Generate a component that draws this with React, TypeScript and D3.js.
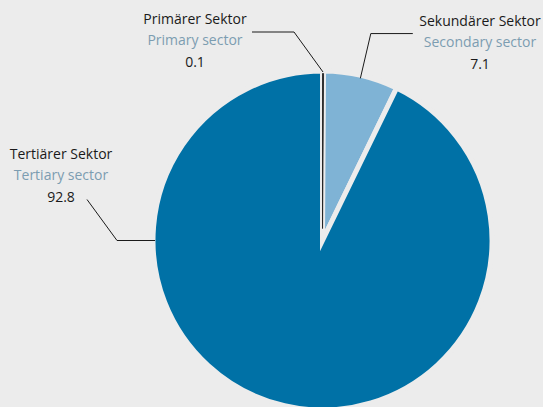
import React from 'react';
import * as d3 from 'd3';

// sectors, clockwise from 12 o'clock
const sectorsDe = ['Primärer Sektor', 'Sekundärer Sektor', 'Tertiärer Sektor'];
const sectorsEn = ['Primary sector', 'Secondary sector', 'Tertiary sector'];
const shares = [0.1, 7.1, 92.8];
const shareLabels = ['0.1', '7.1', '92.8'];
const sliceColors = ['#1a1a1a', '#7fb3d5', '#0071a6'];

const width = 543;
const height = 407;
const bg = '#ececec';

const App = () => {
  const cx = 322.5;
  const cy = 240.5;
  const radius = 169.5;
  const gap = 5;

  const pie = d3
    .pie<number>()
    .sort(null)
    .value(d => d);
  const arcs = pie(shares);

  const arc = d3.arc<d3.PieArcDatum<number>>().innerRadius(0).outerRadius(radius);
  const thinArc = d3
    .arc<d3.PieArcDatum<number>>()
    .innerRadius(12)
    .outerRadius(radius - gap / 2);

  // point on circle at angle a (radians, clockwise from top)
  const polar = (a, r) => [cx + r * Math.sin(a), cy - r * Math.cos(a)];
  const mid = d => (d.startAngle + d.endAngle) / 2;

  // label centre + baseline of first line
  const labelPos = [
    [195, 24],
    [480, 26],
    [61, 159]
  ];

  const leader = i => {
    const d = arcs[i];
    if (i === 0) {
      const p = polar(mid(d), radius - 1);
      return [p, [p[0] - 29, p[1] - 40], [p[0] - 71, p[1] - 40]];
    }
    if (i === 1) {
      const p = polar(mid(d), radius - 3);
      const e = polar(mid(d), radius + 43);
      return [p, e, [e[0] + 42, e[1]]];
    }
    // tertiary label hangs off the left edge of the pie
    const p = polar(-Math.PI / 2, radius - 2);
    return [p, [p[0] - 38, p[1]], [p[0] - 68, p[1] - 41]];
  };

  const line = d3.line();

  return (
    <svg
      width={width}
      height={height}
      style={{ position: 'absolute', left: 0, top: 0, background: bg }}
      fontFamily="'Open Sans', sans-serif"
      fontSize={14}
    >
      <rect width={width} height={height} fill={bg} />
      <g transform={`translate(${cx},${cy})`}>
        {arcs.slice(1).map((d, i) => (
          <path
            key={i}
            d={arc(d)}
            fill={sliceColors[i + 1]}
            stroke={bg}
            strokeWidth={gap}
            strokeLinejoin="miter"
            strokeMiterlimit={10}
          />
        ))}
        <path d={thinArc(arcs[0])} fill={sliceColors[0]} stroke={sliceColors[0]} strokeWidth={0.8} />
      </g>
      {arcs.map((d, i) => (
        <path key={'l' + i} d={line(leader(i))} fill="none" stroke="#1a1a1a" strokeWidth={1} />
      ))}
      {sectorsDe.map((s, i) => (
        <text key={'t' + i} x={labelPos[i][0]} y={labelPos[i][1]} textAnchor="middle">
          <tspan x={labelPos[i][0]} fill="#1a1a1a">{s}</tspan>
          <tspan x={labelPos[i][0]} dy={21} fill="#7c9db1">{sectorsEn[i]}</tspan>
          <tspan x={labelPos[i][0]} dy={22} fill="#1a1a1a">{shareLabels[i]}</tspan>
        </text>
      ))}
    </svg>
  );
};

export default App;
